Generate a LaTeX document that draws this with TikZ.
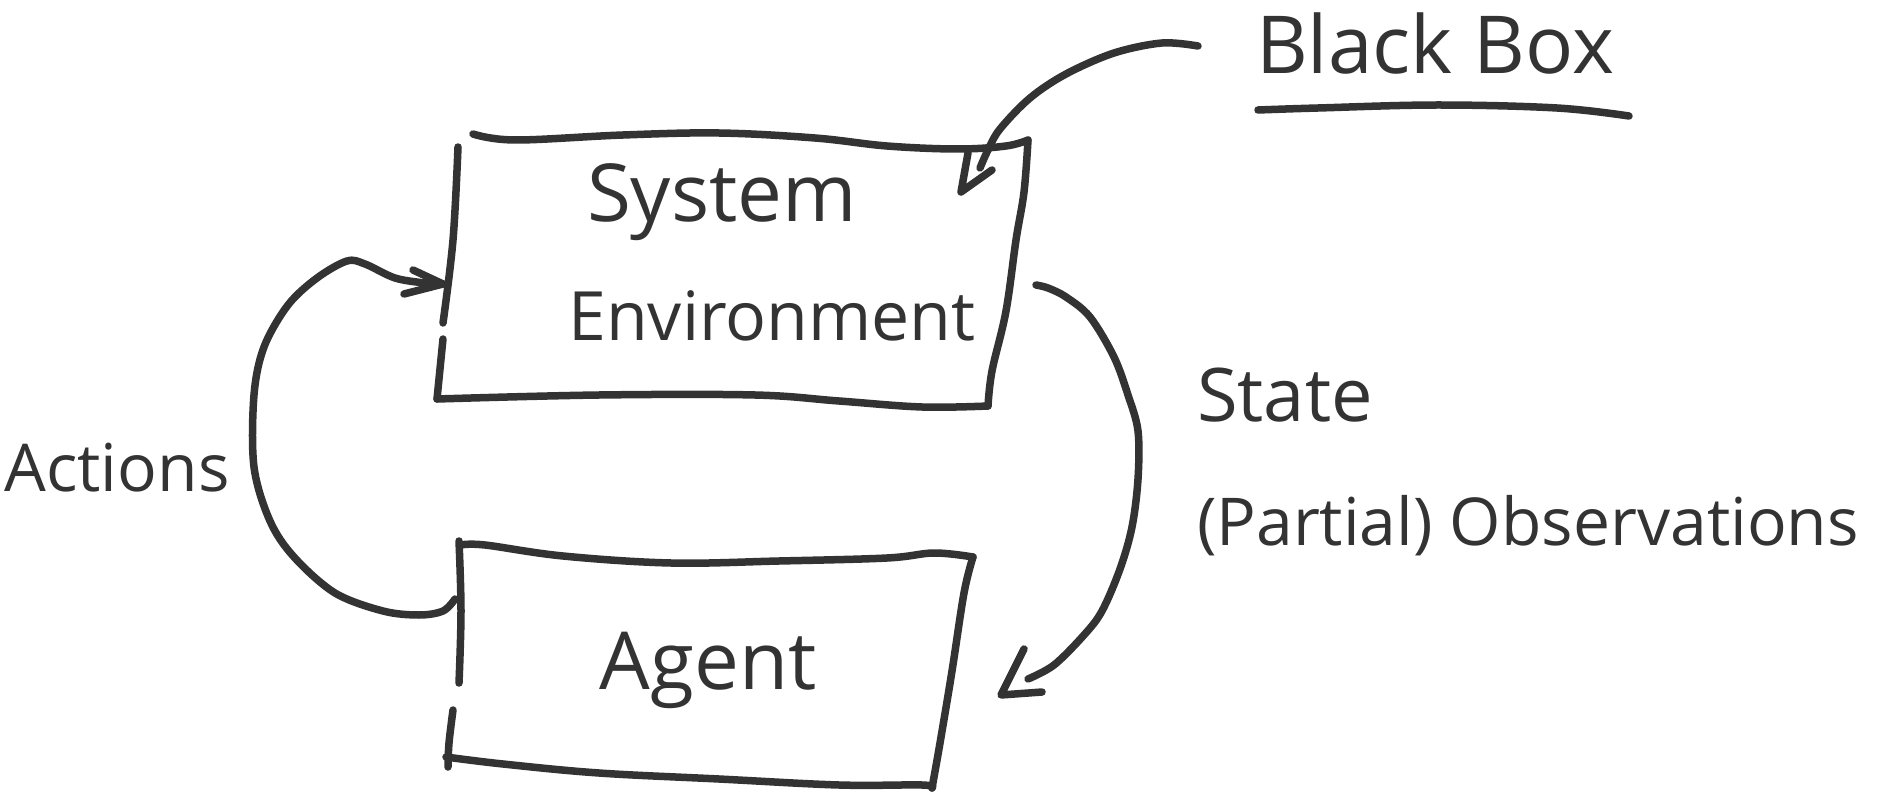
\documentclass[tikz,border=0pt]{standalone}
\usepackage{fontspec}
\setmainfont{Open Sans}
\begin{document}
\begin{tikzpicture}[x=1pt,y=-1pt,
  ink/.style={draw=inkc,line width=7.5pt,line cap=round,line join=round},
  lbl/.style={text=inkc,anchor=base,inner sep=0pt,font=\fontsize{66}{72}\selectfont},
  big/.style={font=\fontsize{80}{86}\selectfont}]
\definecolor{inkc}{HTML}{333333}
\useasboundingbox[fill=white] (0,0) rectangle (1879,794);

% ---- labels ----
\node[lbl,big] (sys) at (722,222) {System};
\node[lbl,font=\fontsize{68}{74}\selectfont] (env) at (772,341) {Environment};
\node[lbl,big] (agent) at (708,689) {Agent};
\node[lbl,big] (bb) at (1435,74) {Black Box};
\node[lbl] (act) at (117,491) {Actions};
\node[lbl,font=\fontsize{74}{80}\selectfont] (state) at (1285,421) {State};
\node[lbl] (obs) at (1528,545) {(Partial) Observations};

% ---- environment box ----
\coordinate (eTL) at (458,147);
\coordinate (eTR) at (1028,140);
\coordinate (eBR) at (988,406);
\coordinate (eBL) at (437,399);
\draw[ink] plot[smooth,tension=0.6] coordinates {(473,134) (515,140) (623,135) (719,133) (815,138) (887,146) (958,149) (1006,146) (eTR)};
\draw[ink] plot[smooth,tension=0.6] coordinates {(eTR) (1024,192) (1016,240) (1006,311) (992,371) (eBR)};
\draw[ink] plot[smooth,tension=0.6] coordinates {(eBR) (922,407) (839,401) (755,395) (599,395) (eBL)};
\draw[ink] plot[smooth,tension=0.6] coordinates {(eTL) (453,240) (443,323)};
\draw[ink] (443,339) -- (eBL);

% ---- agent box ----
\coordinate (aTL) at (461,545);
\coordinate (aTR) at (973,557);
\coordinate (aBR) at (932,788);
\coordinate (aBL) at (446,757);
\draw[ink] plot[smooth,tension=0.6] coordinates {(aTL) (485,545) (563,556) (671,563) (779,561) (887,558) (934,553) (aTR)};
\draw[ink] plot[smooth,tension=0.6] coordinates {(aTR) (964,593) (952,671) (940,743) (aBR)};
\draw[ink] plot[smooth,tension=0.6] coordinates {(aBR) (922,785) (839,785) (719,779) (599,773) (503,764) (aBL)};
\draw[ink] plot[smooth,tension=0.6] coordinates {(459,541) (461,611) (459,683)};
\draw[ink] plot[smooth,tension=0.6] coordinates {(453,710) (449,743) (448,767)};

% ---- Actions connector: agent -> environment ----
\coordinate (actS) at (455,599);
\coordinate (actT) at (443,284);
\draw[ink] plot[smooth,tension=0.55] coordinates {(actS) (443,611) (419,615) (383,611) (335,593) (294,557) (270,521) (254,467) (254,395) (264,347) (288,305) (317,278) (347,261) (365,264) (395,278) (425,283) (actT)};
\draw[ink] (413,270) -- (actT) -- (404,294);

% ---- State connector: environment -> agent ----
\coordinate (stS) at (1036,285);
\coordinate (stT) at (1001,695);
\draw[ink] plot[smooth,tension=0.55] coordinates {(stS) (1048,288) (1066,297) (1090,317) (1114,357) (1128,395) (1138,431) (1138,479) (1132,527) (1120,569) (1102,611) (1084,635) (1054,665) (1028,679)};
\draw[ink] (1024,649) -- (stT) -- (1042,692);

% ---- Black Box pointer ----
\coordinate (bbS) at (1198,46);
\coordinate (bbT) at (961,192);
\draw[ink] plot[smooth,tension=0.55] coordinates {(bbS) (1162,43) (1114,53) (1066,74) (1030,98) (1000,129) (988,150) (980,168)};
\draw[ink] (968,153) -- (bbT) -- (992,170);

% ---- underline of Black Box ----
\draw[ink] plot[smooth,tension=0.6] coordinates {(1258,110) (1318,108) (1438,105) (1557,108) (1629,116)};
\end{tikzpicture}
\end{document}
